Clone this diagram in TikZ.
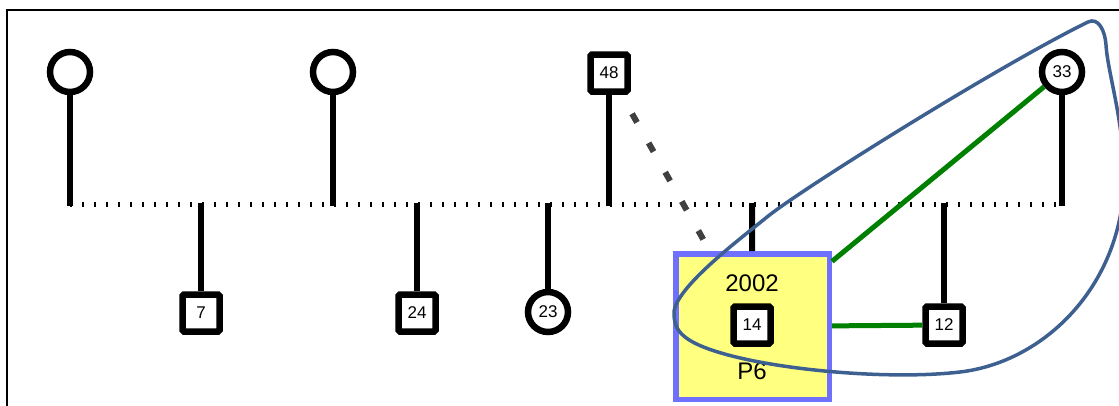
\documentclass[tikz,border=0pt]{standalone}
\usepackage{fontspec}
\setmainfont{Liberation Sans}
\definecolor{boxblue}{RGB}{112,112,255}
\definecolor{boxyellow}{RGB}{255,255,128}
\definecolor{linkgreen}{RGB}{0,128,0}
\definecolor{curveblue}{RGB}{61,96,145}
\definecolor{dotgray}{RGB}{64,64,64}
\begin{document}
\begin{tikzpicture}[x=1pt,y=-1pt,
  sq/.style={draw=black, line width=6.5pt, fill=white, minimum size=37pt, inner sep=0pt, rounded corners=1.5pt, font=\fontsize{17}{17}\selectfont},
  ci/.style={circle, draw=black, line width=6.5pt, fill=white, minimum size=40pt, inner sep=0pt, font=\fontsize{17}{17}\selectfont},
  stem/.style={line width=6pt, draw=black},
  ticks/.style={line width=5pt, draw=black, dash pattern=on 2pt off 10pt},
  link/.style={line width=5pt, draw=linkgreen},
  dots/.style={line width=6pt, draw=dotgray, dash pattern=on 10pt off 23.6pt, shorten <=21.8pt},
  big/.style={font=\fontsize{24}{24}\selectfont, inner sep=0pt},
  hull/.style={line width=3.5pt, draw=curveblue}
]
\path[use as bounding box] (0,0) rectangle (1119,405);
\clip (0,0) rectangle (1119,405);
\draw[line width=2pt] (7,10) rectangle (1140,430);

% timeline coordinates
\coordinate (tl) at (70,204);
\coordinate (tr) at (1062,204);
\coordinate (t1) at (70,206);
\coordinate (t2) at (333,206);
\coordinate (t3) at (609,206);
\coordinate (t4) at (1062,206);
\coordinate (b1) at (201,203);
\coordinate (b2) at (417,203);
\coordinate (b3) at (548,203);
\coordinate (b4) at (752,203);
\coordinate (b5) at (944,203);

\draw[ticks] (tl) -- (tr);

% individuals
\node[ci] (c1) at (70,72) {};
\node[ci] (c2) at (333,72) {};
\node[sq] (n48) at (609,73) {48};
\node[ci] (c33) at (1062,72) {33};
\node[sq] (n7) at (201,313) {7};
\node[sq] (n24) at (417,313) {24};
\node[ci] (c23) at (548,312) {23};

\draw[stem] (c1) -- (t1);
\draw[stem] (c2) -- (t2);
\draw[stem] (n48) -- (t3);
\draw[stem] (c33) -- (t4);
\draw[stem] (b1) -- (n7);
\draw[stem] (b2) -- (n24);
\draw[stem] (b3) -- (c23);

% highlighted box
\node[draw=boxblue, fill=boxyellow, line width=5.5pt, minimum width=153.5pt, minimum height=145.5pt, inner sep=0pt] (box) at (752.5,326.5) {};
\draw[dots] (n48) -- (box);
\draw[stem] (b4) -- (box);
\node[sq] (n14) at (752,325) {14};
\node[big] (yr) at (752,283) {2002};
\node[big] (p6) at (752,371) {P6};

\node[sq] (n12) at (944,325) {12};
\draw[stem] (b5) -- (n12);

\draw[link] (c33) -- (box);
\draw[link] (box) -- (n12);

% enclosing curve
\draw[hull] (674,313)
  .. controls (674,288) and (744,236) .. (767,217)
  .. controls (800,190) and (1000,65) .. (1088,22)
  .. controls (1098,17) and (1105,30) .. (1106,45)
  .. controls (1108,75) and (1124,120) .. (1124,180)
  .. controls (1122,285) and (1045,362) .. (960,372)
  .. controls (875,382) and (720,365) .. (685,337)
  .. controls (676,330) and (674,322) .. cycle;
\end{tikzpicture}
\end{document}
